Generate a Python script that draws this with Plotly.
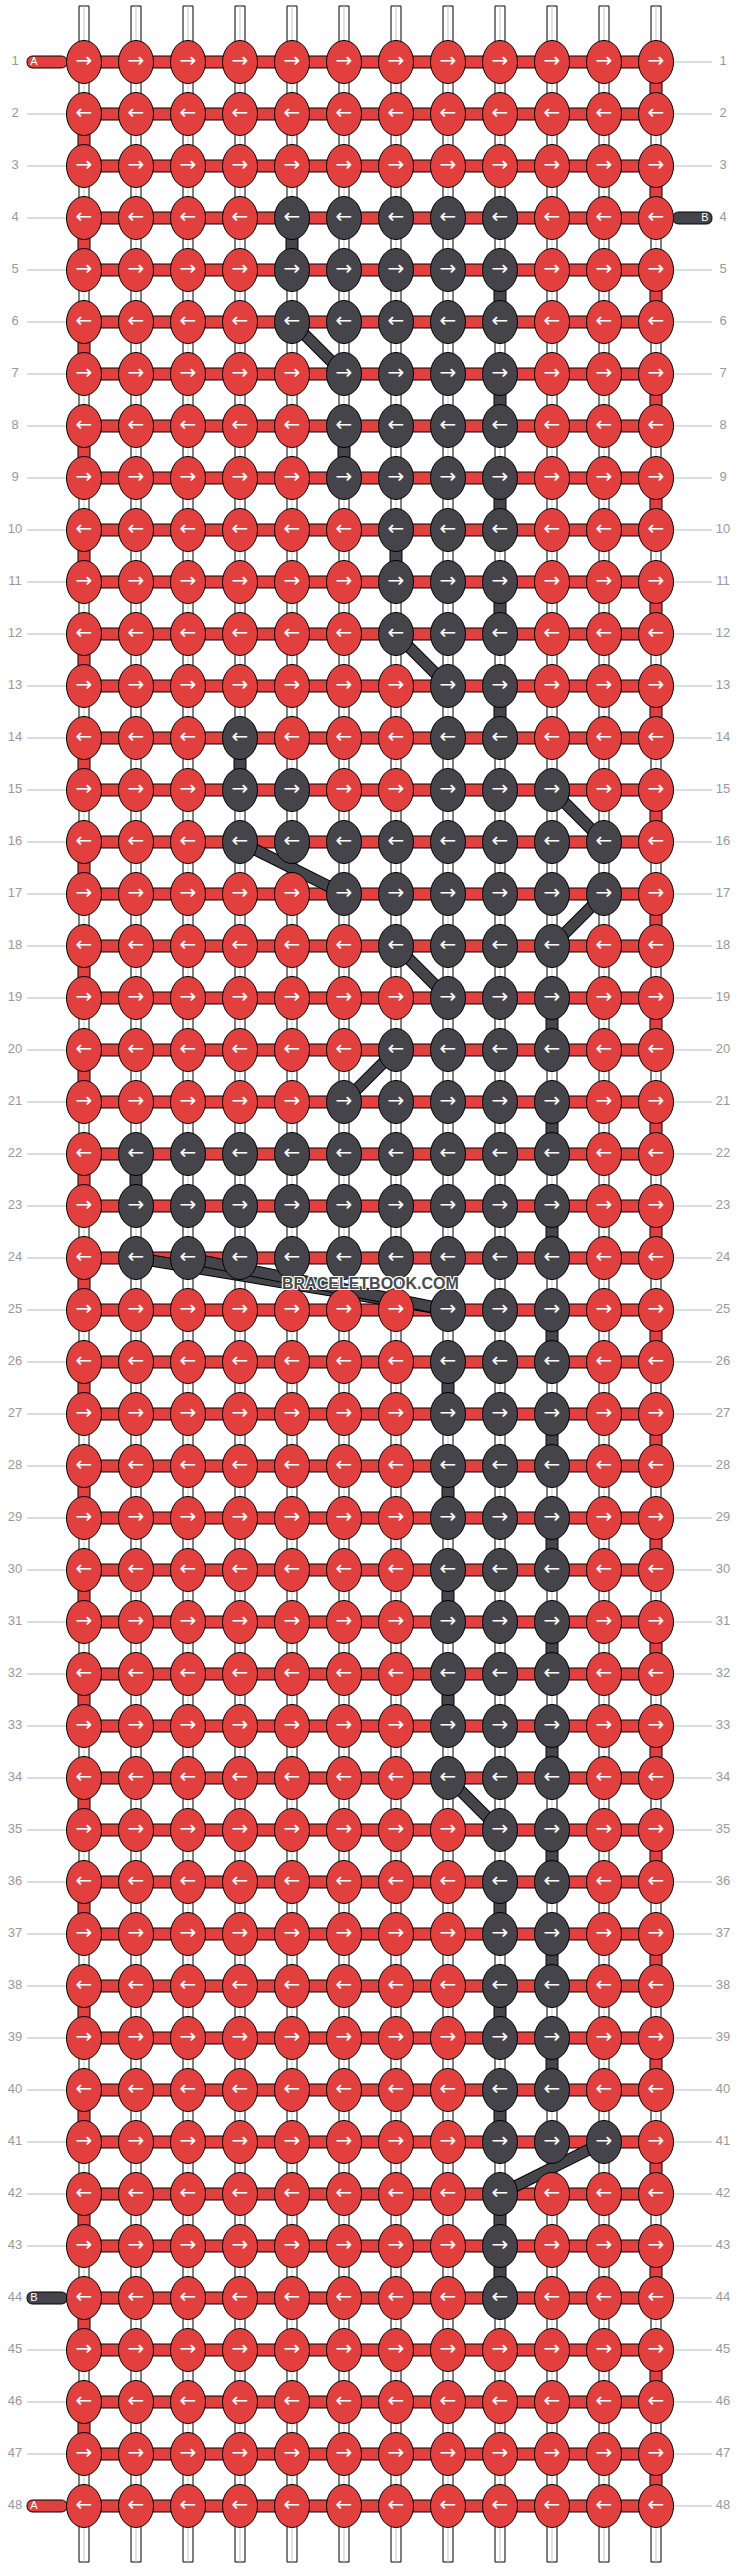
import plotly.graph_objects as go

n_rows = 48
n_cols = 12

# dark knots per row (1-based columns), rows not listed are all red
dark_knots = {
    4: [5, 6, 7, 8, 9], 5: [5, 6, 7, 8, 9], 6: [5, 6, 7, 8, 9],
    7: [6, 7, 8, 9], 8: [6, 7, 8, 9], 9: [6, 7, 8, 9],
    10: [7, 8, 9], 11: [7, 8, 9], 12: [7, 8, 9], 13: [8, 9],
    14: [4, 8, 9], 15: [4, 5, 8, 9, 10],
    16: [4, 5, 6, 7, 8, 9, 10, 11], 17: [6, 7, 8, 9, 10, 11],
    18: [7, 8, 9, 10], 19: [8, 9, 10], 20: [7, 8, 9, 10], 21: [6, 7, 8, 9, 10],
    22: [2, 3, 4, 5, 6, 7, 8, 9, 10], 23: [2, 3, 4, 5, 6, 7, 8, 9, 10],
    24: [2, 3, 4, 5, 6, 7, 8, 9, 10],
    25: [8, 9, 10], 26: [8, 9, 10], 27: [8, 9, 10], 28: [8, 9, 10],
    29: [8, 9, 10], 30: [8, 9, 10], 31: [8, 9, 10], 32: [8, 9, 10],
    33: [8, 9, 10], 34: [8, 9, 10],
    35: [9, 10], 36: [9, 10], 37: [9, 10], 38: [9, 10], 39: [9, 10], 40: [9, 10],
    41: [9, 10, 11], 42: [9], 43: [9], 44: [9],
}

# dark string carried down between (row, row+1) at column
dark_drops = [
    (4, 5), (5, 9), (7, 9), (8, 6), (9, 9), (10, 7), (11, 9), (13, 9), (14, 4),
    (19, 10), (21, 10), (22, 2), (23, 10), (25, 10), (26, 8), (27, 10), (28, 8),
    (29, 10), (30, 8), (31, 10), (32, 8), (33, 10), (35, 10), (36, 9), (37, 10),
    (38, 9), (39, 10), (40, 9), (42, 9), (43, 9),
]

# dark string jumping across knots: (row, col) -> (row, col)
dark_links = [
    ((6, 5), (7, 6)), ((12, 7), (13, 8)), ((15, 10), (16, 11)), ((16, 4), (17, 6)),
    ((17, 11), (18, 10)), ((18, 7), (19, 8)), ((20, 7), (21, 6)),
    ((24, 2), (25, 8)), ((24, 3), (25, 8)), ((34, 8), (35, 9)), ((41, 11), (42, 9)),
]

# string end tabs: row, side, label, colour key
tabs = [(1, "left", "A", "red"), (4, "right", "B", "dark"),
        (44, "left", "B", "dark"), (48, "left", "A", "red")]

RED = "#E23F3F"
DARK = "#46444B"
colours = {"red": RED, "dark": DARK}

x0, dx = 84, 52
y0, dy = 62, 52


def cx(c):
    return x0 + (c - 1) * dx


def cy(r):
    return y0 + (r - 1) * dy


shapes = []


def line(xa, ya, xb, yb, color, width):
    shapes.append(dict(type="line", x0=xa, y0=ya, x1=xb, y1=yb, layer="below",
                       line=dict(color=color, width=width)))


# vertical white strings
for c in range(1, n_cols + 1):
    x = cx(c)
    shapes.append(dict(type="rect", x0=x - 5, x1=x + 5, y0=6, y1=2562, layer="below",
                       fillcolor="white", line=dict(color="black", width=1)))
    line(x, 6, x, 2562, "#c8c8c8", 1)

# turnaround segments at the edges and dark drops
drops = []
for r in range(1, n_rows):
    if r % 2 == 0:
        drops.append((r, 1, RED))
    else:
        drops.append((r, n_cols, RED))
for r, c in dark_drops:
    drops.append((r, c, DARK))
for r, c, col in drops:
    shapes.append(dict(type="rect", x0=cx(c) - 6, x1=cx(c) + 6, y0=cy(r), y1=cy(r + 1),
                       layer="below", fillcolor=col, line=dict(color="black", width=1)))

# horizontal red strings
for r in range(1, n_rows + 1):
    shapes.append(dict(type="rect", x0=cx(1), x1=cx(n_cols), y0=cy(r) - 6, y1=cy(r) + 6,
                       layer="below", fillcolor=RED, line=dict(color="black", width=1)))

# tabs
for r, side, lab, ck in tabs:
    xa, xb = (27, 67) if side == "left" else (673, 712)
    shapes.append(dict(type="path", layer="below", fillcolor=colours[ck],
                       line=dict(color="black", width=1),
                       path=f"M {xa + 6},{cy(r) - 6} L {xb - 6},{cy(r) - 6} "
                            f"Q {xb},{cy(r) - 6} {xb},{cy(r)} Q {xb},{cy(r) + 6} {xb - 6},{cy(r) + 6} "
                            f"L {xa + 6},{cy(r) + 6} Q {xa},{cy(r) + 6} {xa},{cy(r)} "
                            f"Q {xa},{cy(r) - 6} {xa + 6},{cy(r) - 6} Z"))

# row guide lines
tab_rows = {(r, s) for r, s, _, _ in tabs}
for r in range(1, n_rows + 1):
    if (r, "left") not in tab_rows:
        line(27, cy(r), 67, cy(r), "#bbbbbb", 1)
    if (r, "right") not in tab_rows:
        line(673, cy(r), 712, cy(r), "#bbbbbb", 1)

# diagonal dark links
for (ra, ca), (rb, cb) in dark_links:
    line(cx(ca), cy(ra), cx(cb), cy(rb), "black", 12)
    line(cx(ca), cy(ra), cx(cb), cy(rb), DARK, 10)

# knots
tx, ty, tt = [], [], []
for r in range(1, n_rows + 1):
    dk = dark_knots.get(r, [])
    for c in range(1, n_cols + 1):
        col = DARK if c in dk else RED
        shapes.append(dict(type="circle", x0=cx(c) - 17.5, x1=cx(c) + 17.5,
                           y0=cy(r) - 21.5, y1=cy(r) + 21.5, layer="below",
                           fillcolor=col, line=dict(color="black", width=1)))
        tx.append(cx(c))
        ty.append(cy(r))
        tt.append("→" if r % 2 == 1 else "←")

fig = go.Figure()
fig.add_trace(go.Scatter(x=tx, y=ty, text=tt, mode="text", hoverinfo="skip",
                         textfont=dict(color="white", size=20, family="DejaVu Sans")))

# row numbers
nums = list(range(1, n_rows + 1))
fig.add_trace(go.Scatter(x=[15] * n_rows, y=[cy(r) for r in nums], text=[str(r) for r in nums],
                         mode="text", hoverinfo="skip",
                         textfont=dict(color="#999999", size=13, family="Liberation Sans")))
fig.add_trace(go.Scatter(x=[723] * n_rows, y=[cy(r) for r in nums], text=[str(r) for r in nums],
                         mode="text", hoverinfo="skip",
                         textfont=dict(color="#999999", size=13, family="Liberation Sans")))

# tab letters
fig.add_trace(go.Scatter(
    x=[34 if s == "left" else 705 for _, s, _, _ in tabs],
    y=[cy(r) for r, _, _, _ in tabs], text=[lab for _, _, lab, _ in tabs],
    mode="text", hoverinfo="skip",
    textfont=dict(color="white", size=11, family="Liberation Sans")))

fig.add_annotation(x=370, y=1283, text="<b>BRACELETBOOK.COM</b>", showarrow=False,
                   font=dict(family="Liberation Sans Narrow, Liberation Sans", size=16, color="#4a4a4a",
                             shadow="1px 1px 0 #fff, -1px -1px 0 #fff, 1px -1px 0 #fff, -1px 1px 0 #fff"))

fig.update_layout(
    width=740, height=2568, margin=dict(l=0, r=0, t=0, b=0),
    plot_bgcolor="white", paper_bgcolor="white", showlegend=False, shapes=shapes,
    xaxis=dict(range=[0, 740], visible=False, fixedrange=True),
    yaxis=dict(range=[2568, 0], visible=False, fixedrange=True),
)

fig.write_html("out.html", config={"displayModeBar": False, "staticPlot": True},
               post_script="document.body.style.margin='0';document.body.style.overflow='hidden';")
